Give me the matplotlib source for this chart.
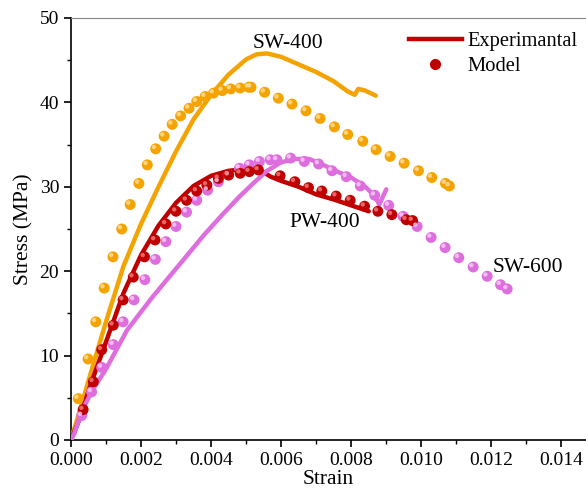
import matplotlib
matplotlib.use('Agg')
from matplotlib import pyplot as plt
from matplotlib import transforms
from matplotlib.lines import Line2D
from matplotlib.ticker import MultipleLocator, FormatStrFormatter

plt.rcParams['font.family'] = ['Liberation Serif', 'DejaVu Serif']

# experimental curves (strain, stress in MPa)
sw400_exp_x = [0, 0.00025, 0.0005, 0.001, 0.0015, 0.002, 0.0025, 0.003, 0.0035, 0.004, 0.0045,
               0.005, 0.0053, 0.0056, 0.006, 0.0065, 0.007, 0.0075, 0.0079, 0.0081, 0.0082,
               0.0084, 0.0087]
sw400_exp_y = [0, 3.4, 7.0, 14.0, 20.6, 25.6, 30.0, 34.2, 38.0, 40.9, 43.3,
               45.1, 45.7, 45.8, 45.4, 44.5, 43.6, 42.5, 41.3, 40.9, 41.6,
               41.4, 40.8]

pw400_exp_x = [0, 0.0002, 0.0006, 0.001, 0.0015, 0.002, 0.0025, 0.003, 0.0035, 0.004, 0.0045,
               0.005, 0.0054, 0.0057, 0.006, 0.0065, 0.007, 0.0075, 0.008, 0.0085]
pw400_exp_y = [0, 2.0, 7.0, 11.6, 17.4, 21.9, 25.4, 28.1, 30.1, 31.3, 31.9,
               32.1, 32.0, 31.2, 30.7, 30.0, 29.1, 28.5, 27.8, 27.1]

sw600_exp_x = [0, 0.0001, 0.0003, 0.0006, 0.001, 0.0016, 0.0023, 0.0028, 0.0033, 0.0038, 0.0043,
               0.0048, 0.0052, 0.0056, 0.006, 0.0064, 0.0068, 0.0072, 0.0076, 0.008, 0.0084,
               0.0086, 0.00875, 0.0088, 0.009]
sw600_exp_y = [0, 0.8, 3.3, 5.8, 8.4, 13.0, 16.8, 19.3, 21.8, 24.3, 26.6,
               28.8, 30.4, 31.9, 32.9, 33.3, 33.3, 32.6, 31.8, 31.1, 30.0,
               29.2, 28.3, 27.9, 29.7]

# model points
sw400_mod_x = [0.00021, 0.00049, 0.00071, 0.00095, 0.00120, 0.00145, 0.00169, 0.00194, 0.00218,
               0.00242, 0.00266, 0.00289, 0.00313, 0.00337, 0.00359, 0.00383, 0.00407, 0.00432,
               0.00456, 0.00483, 0.00507, 0.00514, 0.00553, 0.00592, 0.00631, 0.00671, 0.00711,
               0.00752, 0.00790, 0.00833, 0.00871, 0.00911, 0.00951, 0.00992, 0.01030, 0.01069,
               0.01080]
sw400_mod_y = [4.9, 9.6, 14.0, 18.0, 21.7, 25.0, 27.9, 30.4, 32.6,
               34.5, 36.0, 37.4, 38.4, 39.3, 40.1, 40.7, 41.1, 41.4,
               41.6, 41.7, 41.8, 41.8, 41.2, 40.5, 39.8, 39.0, 38.1,
               37.1, 36.2, 35.4, 34.4, 33.6, 32.8, 31.9, 31.1, 30.4,
               30.1]

pw400_mod_x = [0.00035, 0.00064, 0.00088, 0.00121, 0.00149, 0.00178, 0.00210, 0.00240, 0.00271,
               0.00300, 0.00330, 0.00359, 0.00388, 0.00421, 0.00450, 0.00483, 0.00509, 0.00535,
               0.00597, 0.00639, 0.00678, 0.00716, 0.00757, 0.00797, 0.00838, 0.00876, 0.00916,
               0.00957, 0.00975]
pw400_mod_y = [3.6, 6.9, 10.7, 13.6, 16.6, 19.3, 21.7, 23.7, 25.6,
               27.1, 28.4, 29.5, 30.2, 31.0, 31.4, 31.6, 31.8, 32.0,
               31.3, 30.6, 29.9, 29.5, 28.9, 28.4, 27.7, 27.1, 26.7,
               26.1, 26.0]

sw600_mod_x = [0.00031, 0.00059, 0.00088, 0.00121, 0.00149, 0.00180, 0.00211, 0.00241, 0.00271,
               0.00300, 0.00330, 0.00359, 0.00390, 0.00421, 0.00450, 0.00481, 0.00509, 0.00538,
               0.00569, 0.00588, 0.00627, 0.00666, 0.00707, 0.00745, 0.00786, 0.00826, 0.00867,
               0.00907, 0.00948, 0.00988, 0.01028, 0.01068, 0.01107, 0.01148, 0.01188, 0.01226,
               0.01245]
sw600_mod_y = [2.9, 5.7, 8.6, 11.3, 14.0, 16.6, 19.0, 21.4, 23.5,
               25.3, 27.0, 28.4, 29.6, 30.6, 31.4, 32.2, 32.6, 33.0,
               33.2, 33.2, 33.4, 33.0, 32.7, 31.9, 31.2, 30.1, 29.0,
               27.8, 26.5, 25.3, 24.0, 22.8, 21.6, 20.5, 19.4, 18.4,
               17.9]

orange = '#F5A300'
red = '#C00000'
violet = '#DE6EDE'

fig = plt.figure(figsize=(5.86, 5.0), dpi=100)
ax = fig.add_axes([0.121, 0.12, 0.879, 0.844])


def balls(x, y, c, light):
    # shaded sphere look: base dot + small highlight shifted up-left
    ax.scatter(x, y, s=62, color=c, edgecolors='none', zorder=4)
    hl = transforms.offset_copy(ax.transData, fig=fig, x=-1.3, y=1.3, units='points')
    ax.scatter(x, y, s=10, color=light, edgecolors='none', alpha=0.8, zorder=5, transform=hl)


lw = 3.2
ax.plot(sw400_exp_x, sw400_exp_y, color=orange, lw=lw, zorder=3, solid_capstyle='round',
        solid_joinstyle='round')
ax.plot(pw400_exp_x, pw400_exp_y, color=red, lw=lw, zorder=3, solid_capstyle='round',
        solid_joinstyle='round')
ax.plot(sw600_exp_x, sw600_exp_y, color=violet, lw=lw, zorder=3, solid_capstyle='round',
        solid_joinstyle='round')

balls(sw400_mod_x, sw400_mod_y, orange, '#FFE0A0')
balls(sw600_mod_x, sw600_mod_y, violet, '#F8D0F8')
balls(pw400_mod_x, pw400_mod_y, red, '#F08080')

ax.text(0.0062, 47.0, 'SW-400', fontsize=15.5, ha='center', va='center')
ax.text(0.00724, 25.8, 'PW-400', fontsize=15.5, ha='center', va='center')
ax.text(0.01303, 20.4, 'SW-600', fontsize=15.5, ha='center', va='center')

ax.set_xlim(0, 0.0147)
ax.set_ylim(0, 50)
ax.xaxis.set_major_locator(MultipleLocator(0.002))
ax.xaxis.set_minor_locator(MultipleLocator(0.001))
ax.xaxis.set_major_formatter(FormatStrFormatter('%.3f'))
ax.yaxis.set_major_locator(MultipleLocator(10))
ax.yaxis.set_minor_locator(MultipleLocator(5))
ax.tick_params(which='major', direction='out', length=5, width=1.2, labelsize=14)
ax.tick_params(which='minor', direction='out', length=3, width=1.0)
ax.spines['right'].set_visible(False)
ax.spines['top'].set_linewidth(0.8)
ax.spines['top'].set_color('#888888')
ax.spines['left'].set_linewidth(1.2)
ax.spines['bottom'].set_linewidth(1.2)
ax.set_xlabel('Strain', fontsize=15.5, labelpad=1)
ax.set_ylabel('Stress (MPa)', fontsize=15.5, labelpad=4)

handles = [Line2D([], [], color=red, lw=3.2),
           Line2D([], [], color=red, marker='o', ls='none', markersize=7)]
ax.legend(handles, ['Experimantal', 'Model'], loc='upper left', bbox_to_anchor=(0.62, 1.012),
          frameon=False, fontsize=14.8, handlelength=2.6, handletextpad=0.25, labelspacing=0.3)

plt.savefig('out.png', dpi=100)
